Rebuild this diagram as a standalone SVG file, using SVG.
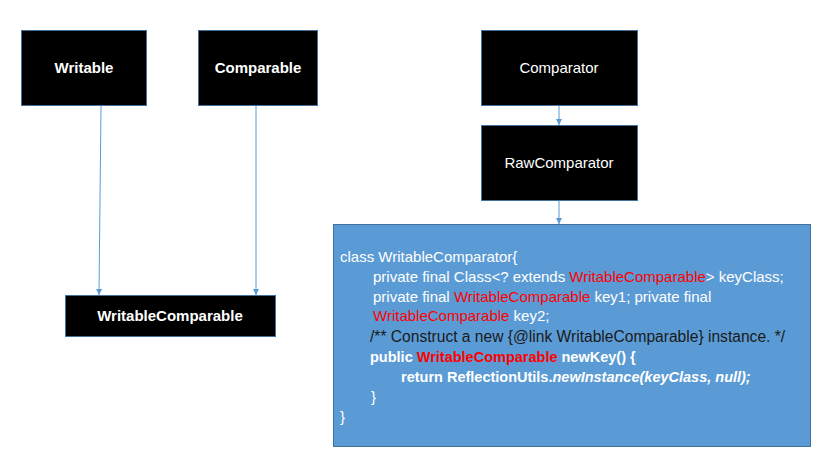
<svg xmlns="http://www.w3.org/2000/svg" width="815" height="461" viewBox="0 0 815 461">
<style>
.node{fill:#000000;stroke:#41719C;stroke-width:1}
.lbl{font-family:"Liberation Sans",Arial,sans-serif;font-size:15px;fill:#FFFFFF;text-anchor:middle}
.b{font-weight:bold}
.conn{stroke:#5B9BD5;stroke-width:1;fill:none;marker-end:url(#ah)}
.code{font-family:"Liberation Sans",Arial,sans-serif;font-size:15px;fill:#FFFFFF}
.cb{font-weight:bold;font-size:14.5px}
.red{fill:#FF0000}
.dark{fill:#1A1A1A;font-size:15.6px}
</style>
<defs>
<marker id="ah" markerWidth="6" markerHeight="6" refX="6" refY="3" orient="auto" markerUnits="userSpaceOnUse">
<path d="M0,0 L6,3 L0,6 Z" fill="#5B9BD5"/>
</marker>
</defs>
<rect width="815" height="461" fill="#FFFFFF"/>
<g id="connectors">
<line class="conn" x1="101" y1="105" x2="99" y2="295"/>
<line class="conn" x1="256" y1="105" x2="256" y2="295"/>
<line class="conn" x1="559" y1="105" x2="559" y2="125"/>
<line class="conn" x1="559" y1="200" x2="559" y2="224"/>
</g>
<g id="writable">
<rect class="node" x="21.5" y="30.5" width="125" height="75"/>
<text class="lbl b" x="84" y="73">Writable</text>
</g>
<g id="comparable">
<rect class="node" x="198.5" y="30.5" width="119" height="75"/>
<text class="lbl b" x="258" y="73">Comparable</text>
</g>
<g id="comparator">
<rect class="node" x="481.5" y="30.5" width="156" height="75"/>
<text class="lbl" x="559" y="73">Comparator</text>
</g>
<g id="rawcomparator">
<rect class="node" x="481.5" y="125.5" width="156" height="75"/>
<text class="lbl" x="559" y="168">RawComparator</text>
</g>
<g id="writablecomparable">
<rect class="node" x="65.5" y="295.5" width="210" height="41"/>
<text class="lbl b" x="170" y="321">WritableComparable</text>
</g>
<g id="writablecomparator">
<rect x="333.5" y="224.5" width="477" height="222" fill="#5B9BD5" stroke="#41719C" stroke-width="1"/>
<text class="code" x="340" y="262">class WritableComparator{</text>
<text class="code" x="373" y="282">private final Class&lt;? extends <tspan class="red">WritableComparable</tspan>&gt; keyClass;</text>
<text class="code" x="373" y="302">private final <tspan class="red">WritableComparable</tspan> key1; private final</text>
<text class="code" x="373" y="321"><tspan class="red">WritableComparable</tspan> key2;</text>
<text class="code dark" x="370" y="342">/** Construct a new {@link WritableComparable} instance. */</text>
<text class="code cb" x="370" y="362">public <tspan class="red">WritableComparable</tspan> newKey() {</text>
<text class="code cb" x="401" y="382">return ReflectionUtils.<tspan font-style="italic">newInstance(keyClass, null);</tspan></text>
<text class="code" x="371" y="402">}</text>
<text class="code" x="340" y="422">}</text>
</g>
</svg>
